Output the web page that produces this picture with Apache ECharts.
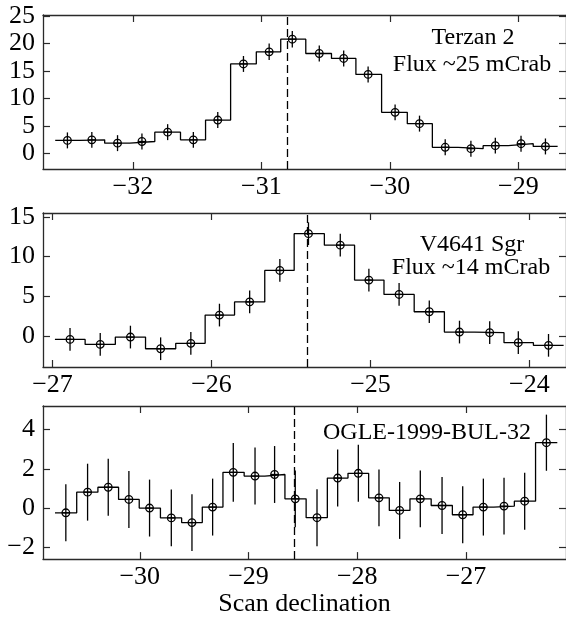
<!DOCTYPE html>
<html>
<head>
<meta charset="utf-8">
<script src="https://cdn.jsdelivr.net/npm/echarts@6/dist/echarts.min.js"></script>
<style>
html,body{margin:0;padding:0;background:#fff;}
#chart{width:566px;height:618px;}
</style>
</head>
<body>
<div id="chart"></div>
<script>
// ---------- Panel 1: Terzan 2 ----------
const x1 = [-32.51, -32.32, -32.12, -31.93, -31.73, -31.53, -31.34, -31.14, -30.94, -30.76,
            -30.55, -30.36, -30.17, -29.96, -29.77, -29.57, -29.37, -29.18, -28.98, -28.79];
const y1 = [2.4, 2.5, 1.9, 2.2, 3.9, 2.5, 6.1, 16.3, 18.5, 20.8,
            18.2, 17.3, 14.4, 7.5, 5.45, 1.15, 0.9, 1.45, 1.8, 1.3];
const e1 = [1.45, 1.45, 1.45, 1.45, 1.45, 1.45, 1.45, 1.45, 1.5, 1.5,
            1.45, 1.45, 1.45, 1.45, 1.45, 1.45, 1.45, 1.45, 1.45, 1.45];
const xTicks1 = [-32, -31, -30, -29];
const yTicks1 = [0, 5, 10, 15, 20, 25];
const xRange1 = [-32.70, -28.63];
const yRange1 = [-2.8, 25.2];
const dash1 = -30.80;
const label1 = ['Terzan 2', 'Flux ~25 mCrab'];

// ---------- Panel 2: V4641 Sgr ----------
const x2 = [-26.89, -26.70, -26.51, -26.32, -26.13, -25.95, -25.76, -25.57, -25.39,
            -25.19, -25.01, -24.82, -24.63, -24.44, -24.25, -24.07, -23.88];
const y2 = [-0.42, -1.05, -0.13, -1.6, -0.92, 2.64, 4.3, 8.26, 12.9,
            11.45, 7.05, 5.24, 3.06, 0.5, 0.42, -0.84, -1.17];
const e2 = [1.43, 1.43, 1.43, 1.43, 1.43, 1.43, 1.43, 1.43, 1.43,
            1.43, 1.43, 1.43, 1.43, 1.43, 1.43, 1.43, 1.43];
const xTicks2 = [-27, -26, -25, -24];
const yTicks2 = [0, 5, 10, 15];
const xRange2 = [-27.06, -23.77];
const yRange2 = [-3.9, 15.5];
const dash2 = -25.40;
const label2 = ['V4641 Sgr', 'Flux ~14 mCrab'];

// ---------- Panel 3: OGLE-1999-BUL-32 ----------
const x3 = [-30.68, -30.48, -30.29, -30.10, -29.91, -29.71, -29.52, -29.33, -29.14, -28.94,
            -28.76, -28.57, -28.37, -28.18, -27.99, -27.80, -27.61, -27.42, -27.22, -27.03,
            -26.84, -26.65, -26.46, -26.26];
const y3 = [-0.24, 0.81, 1.06, 0.44, 0.0, -0.5, -0.74, 0.05, 1.82, 1.63,
            1.71, 0.47, -0.49, 1.53, 1.77, 0.52, -0.12, 0.47, 0.13, -0.34,
            0.05, 0.1, 0.35, 3.33];
const e3 = [1.45, 1.45, 1.45, 1.45, 1.45, 1.45, 1.45, 1.45, 1.5, 1.45,
            1.45, 1.45, 1.45, 1.45, 1.45, 1.45, 1.45, 1.45, 1.45, 1.45,
            1.45, 1.45, 1.45, 1.43];
const xTicks3 = [-30, -29, -28, -27];
const yTicks3 = [-2, 0, 2, 4];
const xRange3 = [-30.89, -26.08];
const yRange3 = [-2.6, 5.2];
const dash3 = -28.58;
const label3 = ['OGLE-1999-BUL-32'];

const xTitle = 'Scan declination';

// ---------- Build chart ----------
const FONT = "'Liberation Serif', 'Times New Roman', serif";
const AXIS_COLOR = '#2a2a2a';
const fmt = v => String(v).replace('-', '\u2212');

const panels = [
  {x: x1, y: y1, e: e1, xt: xTicks1, yt: yTicks1, xr: xRange1, yr: yRange1, dash: dash1},
  {x: x2, y: y2, e: e2, xt: xTicks2, yt: yTicks2, xr: xRange2, yr: yRange2, dash: dash2},
  {x: x3, y: y3, e: e3, xt: xTicks3, yt: yTicks3, xr: xRange3, yr: yRange3, dash: dash3}
];
const gridLayout = [
  {left: 43, right: 0, top: 15, height: 154},
  {left: 43, right: 0, top: 213, height: 154},
  {left: 43, right: 0, top: 406, height: 155}
];

function stepData(xs, ys) {
  const n = xs.length;
  const edges = [];
  edges.push(xs[0] - (xs[1] - xs[0]) / 2);
  for (let i = 1; i < n; i++) edges.push((xs[i - 1] + xs[i]) / 2);
  edges.push(xs[n - 1] + (xs[n - 1] - xs[n - 2]) / 2);
  const out = [];
  for (let i = 0; i < n; i++) {
    out.push([edges[i], ys[i]]);
    out.push([edges[i + 1], ys[i]]);
  }
  return out;
}

function renderPoint(params, api) {
  const x = api.value(0), y = api.value(1), e = api.value(2);
  const c = api.coord([x, y]);
  const lo = api.coord([x, y - e]);
  const hi = api.coord([x, y + e]);
  const r = 3.8;
  const st = {stroke: '#000', lineWidth: 1.3, fill: 'none'};
  return {
    type: 'group',
    children: [
      {type: 'line', shape: {x1: c[0], y1: hi[1], x2: c[0], y2: lo[1]}, style: st},
      {type: 'line', shape: {x1: c[0] - r, y1: c[1], x2: c[0] + r, y2: c[1]}, style: st},
      {type: 'circle', shape: {cx: c[0], cy: c[1], r: r}, style: st}
    ]
  };
}

const grids = [], xAxes = [], yAxes = [], series = [];
panels.forEach((p, i) => {
  grids.push(Object.assign({containLabel: false}, gridLayout[i]));
  const axisLine = {show: true, onZero: false, lineStyle: {color: AXIS_COLOR, width: 1.3}};
  const tick = vals => ({show: true, inside: true, length: 7, customValues: vals,
                         lineStyle: {color: AXIS_COLOR, width: 1.2}});
  const lab = (vals, show, margin) => ({show: show, customValues: vals, formatter: fmt,
      color: '#000', fontFamily: FONT, fontSize: 26, margin: margin});
  const xb = {type: 'value', gridIndex: i, position: 'bottom', min: p.xr[0], max: p.xr[1],
    axisLine: axisLine, axisTick: tick(p.xt), axisLabel: lab(p.xt, true, 5),
    splitLine: {show: false}};
  if (i === 2) {
    xb.name = xTitle;
    xb.nameLocation = 'middle';
    xb.nameGap = 29;
    xb.nameTextStyle = {fontFamily: FONT, fontSize: 26, color: '#000'};
  }
  xAxes.push(xb);
  xAxes.push({type: 'value', gridIndex: i, position: 'top', min: p.xr[0], max: p.xr[1],
    axisLine: axisLine, axisTick: tick(p.xt), axisLabel: {show: false},
    splitLine: {show: false}});
  yAxes.push({type: 'value', gridIndex: i, position: 'left', min: p.yr[0], max: p.yr[1],
    axisLine: axisLine, axisTick: tick(p.yt), axisLabel: lab(p.yt, true, 8),
    splitLine: {show: false}});
  yAxes.push({type: 'value', gridIndex: i, position: 'right', min: p.yr[0], max: p.yr[1],
    axisLine: axisLine, axisTick: tick(p.yt), axisLabel: {show: false},
    splitLine: {show: false}});

  series.push({
    type: 'line', xAxisIndex: 2 * i, yAxisIndex: 2 * i,
    data: stepData(p.x, p.y), symbol: 'none', silent: true,
    lineStyle: {color: '#000', width: 1.3},
    markLine: {
      silent: true, symbol: ['none', 'none'], label: {show: false},
      lineStyle: {color: '#000', width: 1.3, type: [8, 4]},
      data: [{xAxis: p.dash}]
    },
    z: 2
  });
  series.push({
    type: 'custom', xAxisIndex: 2 * i, yAxisIndex: 2 * i,
    data: p.x.map((xv, k) => [xv, p.y[k], p.e[k]]),
    encode: {x: 0, y: 1},
    renderItem: renderPoint, silent: true, z: 3
  });
});

const textStyle = (txt, x, y) => ({
  type: 'text', x: x, y: y, silent: true,
  style: {text: txt, fontFamily: FONT, fontSize: 24, fill: '#000',
          textAlign: 'center', textVerticalAlign: 'middle'}
});

const option = {
  animation: false,
  backgroundColor: '#fff',
  grid: grids,
  xAxis: xAxes,
  yAxis: yAxes,
  series: series,
  graphic: [
    textStyle(label1[0], 473, 38),
    textStyle(label1[1], 472, 65),
    textStyle(label2[0], 472, 245),
    textStyle(label2[1], 471, 268),
    textStyle(label3[0], 427, 433)
  ]
};

const chart = echarts.init(document.getElementById('chart'), null, {renderer: 'canvas'});
chart.setOption(option);
</script>
</body>
</html>
